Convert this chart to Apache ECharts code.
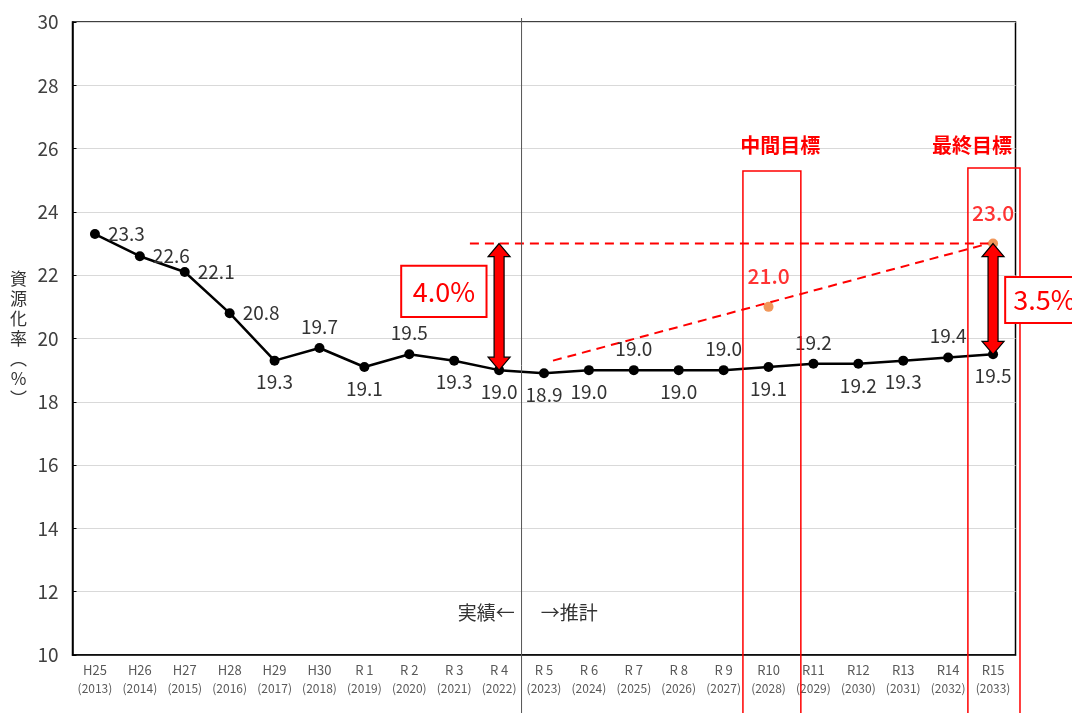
<!DOCTYPE html>
<html>
<head>
<meta charset="utf-8">
<script src="https://cdn.jsdelivr.net/npm/echarts@6/dist/echarts.min.js"></script>
<style>
html, body { margin: 0; padding: 0; background: #fff; }
#chart { width: 1072px; height: 713px; }
</style>
</head>
<body>
<div id="chart"></div>
<script>
// 年度（和暦）
const eraLabels = ['H25', 'H26', 'H27', 'H28', 'H29', 'H30', 'R 1', 'R 2', 'R 3', 'R 4',
    'R 5', 'R 6', 'R 7', 'R 8', 'R 9', 'R10', 'R11', 'R12', 'R13', 'R14', 'R15'];
// 西暦
const yearLabels = ['2013', '2014', '2015', '2016', '2017', '2018', '2019', '2020', '2021', '2022',
    '2023', '2024', '2025', '2026', '2027', '2028', '2029', '2030', '2031', '2032', '2033'];
// 資源化率 実績（H25〜R4）・推計（R5〜R15） (%)
const rateValues = [23.3, 22.6, 22.1, 20.8, 19.3, 19.7, 19.1, 19.5, 19.3, 19.0,
    18.9, 19.0, 19.0, 19.0, 19.0, 19.1, 19.2, 19.2, 19.3, 19.4, 19.5];
// 目標値 [年度index, %]  中間目標 R10 / 最終目標 R15
const targetPoints = [[15, 21.0], [20, 23.0]];
// 目標差 (%)
const gapLabels = ['4.0%', '3.5%'];
// y軸
const yMin = 10, yMax = 30, yStep = 2;

// ラベルの位置（上下）
const labelSide = ['right', 'right', 'right', 'right', 'bottom', 'top', 'bottom', 'top', 'bottom', 'bottom',
    'bottom', 'bottom', 'top', 'bottom', 'top', 'bottom', 'top', 'bottom', 'bottom', 'top', 'bottom'];

const RED = '#ff0000';
const FONT = '"Noto Sans CJK JP", "Noto Sans", sans-serif';

const chart = echarts.init(document.getElementById('chart'));

const lineData = rateValues.map(function (v, i) {
    return {
        value: v,
        label: { position: labelSide[i], distance: labelSide[i] === 'right' ? 8 : 7 }
    };
});

const opt = {
    animation: false,
    backgroundColor: '#fff',
    textStyle: { fontFamily: FONT },
    grid: {
        left: 72.5, right: 56.5, top: 22, bottom: 58,
        show: true, borderColor: '#000', borderWidth: 1.5
    },
    xAxis: [{
        type: 'category',
        data: eraLabels,
        boundaryGap: true,
        axisLine: { onZero: false, lineStyle: { color: '#000', width: 1.5 } },
        axisTick: { inside: true, length: 5, lineStyle: { color: '#000' } },
        axisLabel: {
            margin: 5,
            interval: 0,
            formatter: function (v, i) {
                return '{a|' + v + '}\n{b|(' + yearLabels[i] + ')}';
            },
            rich: {
                a: { fontSize: 13, color: '#595959', lineHeight: 20, fontFamily: FONT },
                b: { fontSize: 12, color: '#595959', lineHeight: 16, fontFamily: FONT }
            }
        }
    }, {
        // 注記用の数値軸（カテゴリ中心 = index）
        type: 'value',
        min: -0.5, max: eraLabels.length - 0.5,
        show: false
    }],
    yAxis: {
        type: 'value',
        min: yMin, max: yMax, interval: yStep,
        name: '資\n源\n化\n率\n︵\n%\n︶',
        nameLocation: 'middle',
        nameRotate: 0,
        nameGap: 54,
        nameTextStyle: {
            fontSize: 17, color: '#333', lineHeight: 20, align: 'center',
            padding: [0, 0, 28, 0], fontFamily: FONT
        },
        axisLine: { show: true, onZero: false, lineStyle: { color: '#000', width: 1.5 } },
        axisTick: { show: true, inside: true, length: 4, lineStyle: { color: '#000' } },
        axisLabel: { fontSize: 19, color: '#404040', margin: 14, fontFamily: FONT },
        splitLine: { lineStyle: { color: '#d9d9d9', width: 1.2 } }
    },
    series: [{
        name: '資源化率',
        type: 'line',
        data: lineData,
        symbol: 'circle',
        symbolSize: 10,
        itemStyle: { color: '#000' },
        lineStyle: { color: '#000', width: 2.5 },
        label: {
            show: true,
            fontSize: 19,
            color: '#333',
            fontFamily: FONT,
            formatter: function (p) { return p.value.toFixed(1); }
        },
        z: 3
    }, {
        // 目標水準（横破線）
        type: 'line',
        xAxisIndex: 1,
        data: [[8.35, targetPoints[1][1]], [20, targetPoints[1][1]]],
        symbol: 'none',
        lineStyle: { color: RED, width: 2, type: [9, 6] },
        z: 2
    }, {
        // 目標への推移（斜め破線）
        type: 'line',
        xAxisIndex: 1,
        data: [[10.2, 19.3], [19.9, targetPoints[1][1]]],
        symbol: 'none',
        lineStyle: { color: RED, width: 2, type: [9, 6] },
        z: 2
    }, {
        name: '目標',
        type: 'scatter',
        xAxisIndex: 1,
        data: targetPoints,
        symbolSize: 10,
        itemStyle: { color: '#ed7d31' },
        label: {
            show: true,
            position: 'top',
            distance: 15,
            fontSize: 21,
            fontWeight: 500,
            color: RED,
            fontFamily: FONT,
            formatter: function (p) { return p.value[1].toFixed(1); }
        },
        z: 4
    }]
};

chart.setOption(opt);

// 注記（データ座標 → ピクセル）
function px(x, y) {
    return chart.convertToPixel({ seriesIndex: 1 }, [x, y]);
}
const H = 713;

function arrow(x, yTop, yBot) {
    const a = px(x, yTop), b = px(x, yBot);
    const cx = a[0], t = a[1], bt = b[1];
    const hl = 13, hw = 11, sw = 5;
    return {
        type: 'polygon',
        z: 100,
        shape: {
            points: [[cx, t], [cx + hw, t + hl], [cx + sw, t + hl], [cx + sw, bt - hl], [cx + hw, bt - hl],
                [cx, bt], [cx - hw, bt - hl], [cx - sw, bt - hl], [cx - sw, t + hl], [cx - hw, t + hl]]
        },
        style: { fill: RED, stroke: '#000', lineWidth: 1.2 }
    };
}

function box(x0, y0, x1, y1, text) {
    const a = px(x0, y0), b = px(x1, y1);
    return [{
        type: 'rect', z: 100,
        shape: { x: a[0], y: a[1], width: b[0] - a[0], height: b[1] - a[1] },
        style: { fill: '#fff', stroke: RED, lineWidth: 2 }
    }, {
        type: 'text', z: 101,
        x: a[0] + 8, y: (a[1] + b[1]) / 2,
        style: { text: text, fill: RED, fontSize: 27, fontFamily: FONT, verticalAlign: 'middle', align: 'left' }
    }];
}

function column(x0, x1, yTop) {
    const a = px(x0, yTop), b = px(x1, yTop);
    return {
        type: 'rect', z: 90,
        shape: { x: a[0], y: a[1], width: b[0] - a[0], height: H + 10 - a[1] },
        style: { fill: 'none', stroke: RED, lineWidth: 1.5 }
    };
}

function label(x, y, text, align, style) {
    const p = px(x, y);
    return {
        type: 'text', z: 101,
        x: p[0], y: p[1],
        style: Object.assign({ text: text, fontFamily: FONT, align: align, verticalAlign: 'middle' }, style)
    };
}

const divTop = px(9.5, yMax);
const gapA = box(6.82, 22.3, 8.72, 20.68, gapLabels[0]);
gapA[1].x = (px(6.82, 0)[0] + px(8.72, 0)[0]) / 2;
gapA[1].style.align = 'center';
const gapB = box(20.27, 21.94, 21.9, 20.49, gapLabels[1]);

chart.setOption({
    graphic: [
        {
            type: 'line', z: 80,
            shape: { x1: divTop[0], y1: divTop[1] - 4, x2: divTop[0], y2: H },
            style: { stroke: '#555', lineWidth: 1 }
        },
        column(14.43, 15.72, 25.29),
        column(19.44, 20.6, 25.39),
        label(15.26, 26.11, '中間目標', 'center', { fill: RED, fontSize: 20, fontWeight: 'bold' }),
        label(19.53, 26.11, '最終目標', 'center', { fill: RED, fontSize: 20, fontWeight: 'bold' }),
        label(9.35, 11.33, '実績←', 'right', { fill: '#333', fontSize: 19 }),
        label(9.93, 11.33, '→推計', 'left', { fill: '#333', fontSize: 19 }),
        arrow(9, targetPoints[1][1], rateValues[9]),
        arrow(20, targetPoints[1][1], rateValues[20])
    ].concat(gapA, gapB)
});

window.addEventListener('resize', function () {
    chart.resize();
});
</script>
</body>
</html>
